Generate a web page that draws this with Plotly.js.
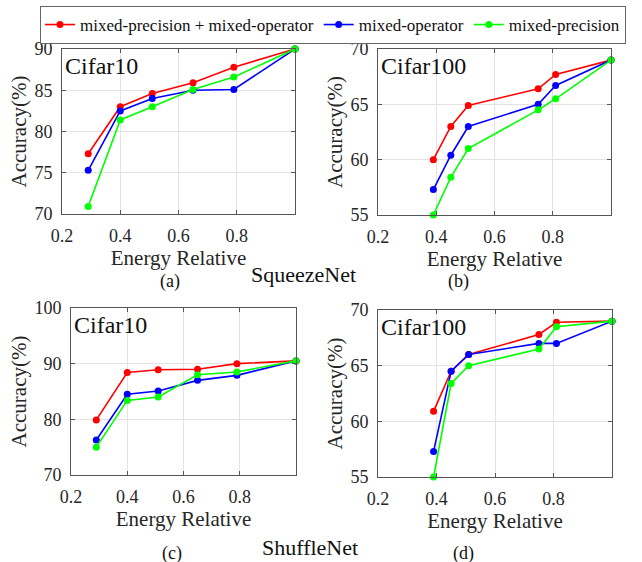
<!DOCTYPE html>
<html>
<head>
<meta charset="utf-8">
<script src="https://cdn.plot.ly/plotly-3.0.1.min.js"></script>
<style>html,body{margin:0;padding:0;background:#fff;}#chart{width:642px;height:562px;}</style>
</head>
<body>
<div id="chart"></div>
<script>
// ---- data ----
const seriesNames = ["mixed-precision + mixed-operator", "mixed-operator", "mixed-precision"];
const seriesColors = ["#ff0000", "#0000ff", "#00ff00"];

// SqueezeNet, Cifar10 (a)
const sqC10Energy = [0.29, 0.40, 0.51, 0.65, 0.79, 1.0];
const sqC10MixedBoth = [77.3, 83.0, 84.6, 85.9, 87.8, 90.0];
const sqC10MixedOp = [75.3, 82.5, 84.0, 85.0, 85.1, 90.0];
const sqC10MixedPrec = [70.9, 81.4, 83.0, 85.1, 86.6, 90.0];

// SqueezeNet, Cifar100 (b)
const sqC100Energy = [0.39, 0.45, 0.51, 0.75, 0.81, 1.0];
const sqC100MixedBoth = [60.0, 63.0, 64.9, 66.4, 67.7, 69.0];
const sqC100MixedOp = [57.3, 60.4, 63.0, 65.0, 66.7, 69.0];
const sqC100MixedPrec = [55.0, 58.4, 61.0, 64.5, 65.5, 69.0];

// ShuffleNet, Cifar10 (c)
const shC10Energy = [0.29, 0.40, 0.51, 0.65, 0.79, 1.0];
const shC10MixedBoth = [79.9, 88.4, 88.9, 89.0, 90.0, 90.5];
const shC10MixedOp = [76.3, 84.5, 85.1, 87.0, 87.9, 90.5];
const shC10MixedPrec = [75.0, 83.4, 84.0, 88.0, 88.5, 90.5];

// ShuffleNet, Cifar100 (d)
const shC100Energy = [0.39, 0.45, 0.51, 0.75, 0.81, 1.0];
const shC100MixedBoth = [60.9, 64.5, 66.0, 67.8, 68.9, 69.0];
const shC100MixedOp = [57.3, 64.5, 66.0, 67.0, 67.0, 69.0];
const shC100MixedPrec = [55.0, 63.4, 65.0, 66.5, 68.5, 69.0];

const xTickVals = [0.2, 0.4, 0.6, 0.8];
const xTickText = ["0.2", "0.4", "0.6", "0.8"];
const panelTitles = ["Cifar10", "Cifar100", "Cifar10", "Cifar100"];
const panelLetters = ["(a)", "(b)", "(c)", "(d)"];
const networkNames = ["SqueezeNet", "ShuffleNet"];
const xTitle = "Energy Relative";
const yTitle = "Accuracy(%)";

// ---- build ----
const FONT = "'Liberation Serif', 'Times New Roman', 'DejaVu Serif', serif";
const W = 642, H = 562;
const panels = [
  {x: sqC10Energy, ys: [sqC10MixedBoth, sqC10MixedOp, sqC10MixedPrec], px: [62, 295], py: [49, 214], yr: [70, 90], dt: 5},
  {x: sqC100Energy, ys: [sqC100MixedBoth, sqC100MixedOp, sqC100MixedPrec], px: [378, 611], py: [49, 215], yr: [55, 70], dt: 5},
  {x: shC10Energy, ys: [shC10MixedBoth, shC10MixedOp, shC10MixedPrec], px: [71, 296], py: [308, 475], yr: [70, 100], dt: 10},
  {x: shC100Energy, ys: [shC100MixedBoth, shC100MixedOp, shC100MixedPrec], px: [378, 612], py: [310, 477], yr: [55, 70], dt: 5}
];

const traces = [];
const layout = {
  width: W, height: H,
  margin: {l: 0, r: 0, t: 0, b: 0},
  paper_bgcolor: "#ffffff",
  plot_bgcolor: "#ffffff",
  font: {family: FONT, color: "#262626", size: 17},
  showlegend: true,
  legend: {
    orientation: "h", x: 40 / W, y: 1 - 6 / H, xanchor: "left", yanchor: "top",
    bordercolor: "#666", borderwidth: 1, bgcolor: "#fff",
    font: {family: FONT, size: 17, color: "#111"},
    itemwidth: 30, tracegroupgap: 0
  },
  annotations: []
};

panels.forEach((p, i) => {
  const n = i + 1;
  const sfx = n === 1 ? "" : String(n);
  const xa = "x" + sfx, ya = "y" + sfx;
  p.ys.forEach((y, s) => {
    traces.push({
      type: "scatter", mode: "lines+markers",
      x: p.x, y: y, xaxis: xa, yaxis: ya,
      name: seriesNames[s], legendgroup: seriesNames[s], showlegend: i === 0,
      line: {color: seriesColors[s], width: 1.6},
      marker: {color: seriesColors[s], size: 7},
      cliponaxis: false
    });
  });
  const axCommon = {
    showline: true, linecolor: "#555", linewidth: 1, mirror: "ticks",
    ticks: "inside", ticklen: 4, tickcolor: "#555",
    showgrid: true, gridcolor: "#e3e3e3", gridwidth: 1, zeroline: false,
    tickfont: {family: FONT, size: 18, color: "#262626"},
    fixedrange: true
  };
  layout["xaxis" + sfx] = Object.assign({}, axCommon, {
    domain: [p.px[0] / W, p.px[1] / W], anchor: ya,
    range: [0.2, 1.0], tickvals: xTickVals, ticktext: xTickText,
    ticklabelstandoff: 5,
    title: {text: xTitle, font: {family: FONT, size: 21, color: "#262626"}, standoff: 4}
  });
  layout["yaxis" + sfx] = Object.assign({}, axCommon, {
    domain: [1 - p.py[1] / H, 1 - p.py[0] / H], anchor: xa,
    range: p.yr, dtick: p.dt, tick0: p.yr[0],
    ticklabelstandoff: 5,
    title: {text: yTitle, font: {family: FONT, size: 21, color: "#262626"}, standoff: 2}
  });
  layout.annotations.push({
    xref: xa + " domain", yref: ya + " domain", x: 0.005, y: 0.99,
    xanchor: "left", yanchor: "top", showarrow: false,
    text: panelTitles[i], font: {family: FONT, size: 24, color: "#111"}
  });
});

const letterPos = [[170, 281], [458, 281], [172, 553], [463, 553]];
letterPos.forEach((pp, i) => {
  layout.annotations.push({
    xref: "paper", yref: "paper", x: pp[0] / W, y: 1 - pp[1] / H,
    xanchor: "center", yanchor: "middle", showarrow: false,
    text: panelLetters[i], font: {family: FONT, size: 18, color: "#111"}
  });
});
const netPos = [[303, 275], [310, 547]];
netPos.forEach((pp, i) => {
  layout.annotations.push({
    xref: "paper", yref: "paper", x: pp[0] / W, y: 1 - pp[1] / H,
    xanchor: "center", yanchor: "middle", showarrow: false,
    text: networkNames[i], font: {family: FONT, size: 22, color: "#111"}
  });
});

Plotly.newPlot("chart", traces, layout, {displayModeBar: false, staticPlot: true});
</script>
</body>
</html>
